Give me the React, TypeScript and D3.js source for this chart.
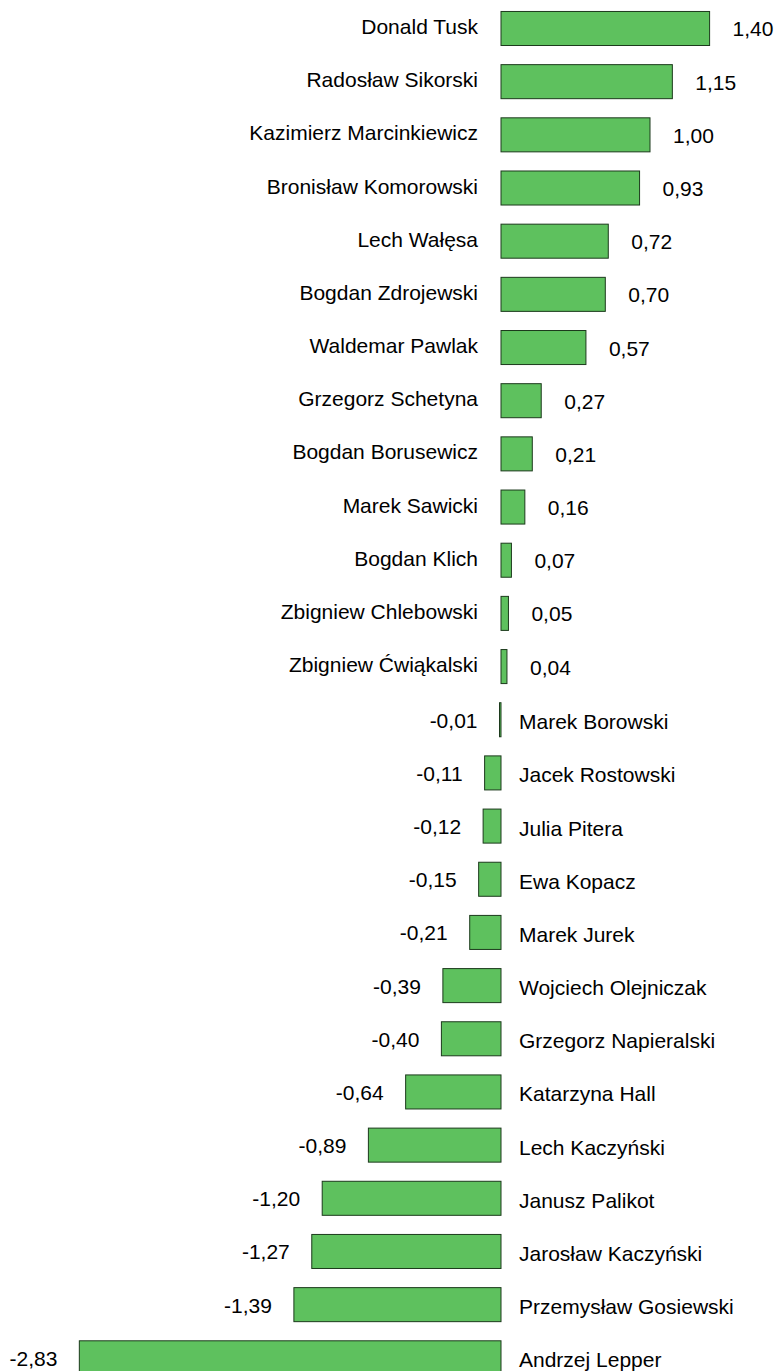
import * as d3 from "d3";
import React, { useRef, useEffect } from "react";

// politicians, top to bottom
const names = [
  "Donald Tusk", "Radosław Sikorski", "Kazimierz Marcinkiewicz", "Bronisław Komorowski",
  "Lech Wałęsa", "Bogdan Zdrojewski", "Waldemar Pawlak", "Grzegorz Schetyna",
  "Bogdan Borusewicz", "Marek Sawicki", "Bogdan Klich", "Zbigniew Chlebowski",
  "Zbigniew Ćwiąkalski", "Marek Borowski", "Jacek Rostowski", "Julia Pitera",
  "Ewa Kopacz", "Marek Jurek", "Wojciech Olejniczak", "Grzegorz Napieralski",
  "Katarzyna Hall", "Lech Kaczyński", "Janusz Palikot", "Jarosław Kaczyński",
  "Przemysław Gosiewski", "Andrzej Lepper",
];
const scores = [
  1.40, 1.15, 1.00, 0.93, 0.72, 0.70, 0.57, 0.27, 0.21, 0.16, 0.07, 0.05, 0.04,
  -0.01, -0.11, -0.12, -0.15, -0.21, -0.39, -0.40, -0.64, -0.89, -1.20, -1.27,
  -1.39, -2.83,
];

const w = 775;
const h = 1371;

const App = () => {
  const svgRef = useRef(null);

  useEffect(() => {
    const data = names.map((name, i) => ({ name, value: scores[i] }));
    const pl = d3.formatLocale({
      decimal: ",", thousands: " ", grouping: [3], currency: ["", " zł"], minus: "-",
    });
    const fmt = pl.format(".2f");

    const xScale = d3.scaleLinear().domain([-3, 1.5]).range([54, 724.5]);
    const yScale = d3.scaleBand()
      .domain(names)
      .range([1.9, 1384.4])
      .paddingInner(0.36)
      .paddingOuter(0.18);

    const svgEl = d3.select(svgRef.current);
    svgEl.selectAll("*").remove();
    const svg = svgEl.append("g");
    const x0 = xScale(0);

    // bars
    svg.selectAll("rect")
      .data(data)
      .enter()
      .append("rect")
      .attr("x", (d) => Math.min(xScale(d.value), x0))
      .attr("y", (d) => yScale(d.name))
      .attr("width", (d) => Math.abs(xScale(d.value) - x0))
      .attr("height", yScale.bandwidth())
      .attr("fill", "#5ec15e")
      .attr("stroke", "#1c3a1c")
      .attr("stroke-width", 1);

    const mid = (d) => yScale(d.name) + yScale.bandwidth() / 2;

    // names on the side opposite to the bar
    svg.selectAll(".name")
      .data(data)
      .enter()
      .append("text")
      .attr("class", "name")
      .attr("x", (d) => (d.value >= 0 ? x0 - 23 : x0 + 18))
      .attr("y", (d) => mid(d) + (d.value >= 0 ? 5.5 : 9.5))
      .attr("text-anchor", (d) => (d.value >= 0 ? "end" : "start"))
      .text((d) => d.name);

    // values at the end of each bar
    svg.selectAll(".val")
      .data(data)
      .enter()
      .append("text")
      .attr("class", "val")
      .attr("x", (d) => (d.value >= 0 ? xScale(d.value) + 23 : xScale(d.value) - 22))
      .attr("y", (d) => mid(d) + 8)
      .attr("text-anchor", (d) => (d.value >= 0 ? "start" : "end"))
      .text((d) => fmt(d.value));

    svg.selectAll("text")
      .attr("font-family", "Liberation Sans, Arial, sans-serif")
      .attr("font-size", 21)
      .attr("fill", "#000");
  }, []);

  return (
    <div style={{ position: "absolute", left: 0, top: 0 }}>
      <svg ref={svgRef} width={w} height={h} style={{ display: "block", background: "#fff" }} />
    </div>
  );
};

export default App;
